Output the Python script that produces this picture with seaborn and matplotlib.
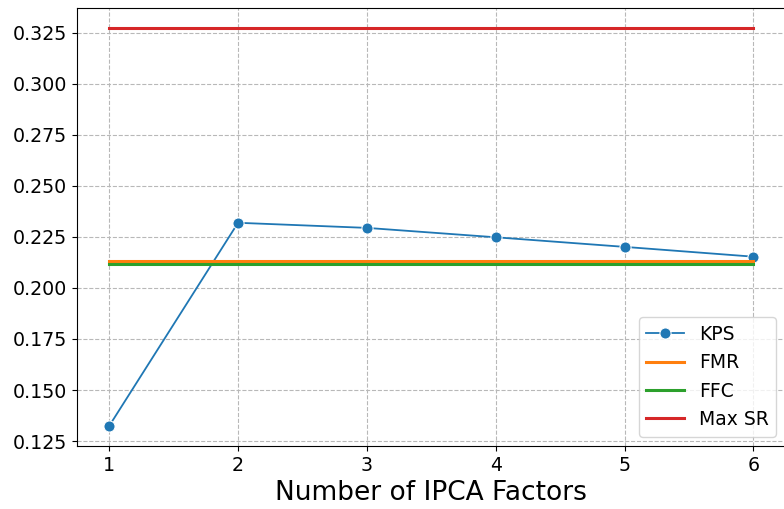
import numpy as np
import pandas as pd
import matplotlib
matplotlib.use('Agg')
import matplotlib.pyplot as plt
import seaborn as sns

n_factors = [1, 2, 3, 4, 5, 6]
kps = [0.1324, 0.2319, 0.2294, 0.2248, 0.2201, 0.2153]
fmr = [0.2131] * 6
ffc = [0.2118] * 6
max_sr = [0.3275] * 6

df = pd.DataFrame({'factors': n_factors, 'KPS': kps, 'FMR': fmr,
                   'FFC': ffc, 'Max SR': max_sr})

fig, ax = plt.subplots(figsize=(7.84, 5.09), dpi=100)
# the original figure is cut off on the right, so the axes run past the edge
fig.subplots_adjust(left=0.0982, right=1.002, top=0.985, bottom=0.124)

sns.lineplot(data=df, x='factors', y='KPS', marker='o', markersize=8,
             linewidth=1.3, color='tab:blue', label='KPS', ax=ax)
sns.lineplot(data=df, x='factors', y='FMR', linewidth=2.2,
             color='tab:orange', label='FMR', ax=ax)
sns.lineplot(data=df, x='factors', y='FFC', linewidth=2.2,
             color='tab:green', label='FFC', ax=ax)
sns.lineplot(data=df, x='factors', y='Max SR', linewidth=2.2,
             color='tab:red', label='Max SR', ax=ax)

ax.grid(True, linestyle='--', color='#b8b8b8', linewidth=0.8)
ax.set_axisbelow(True)
ax.set_xlabel('Number of IPCA Factors', fontsize=19)
ax.set_ylabel('')
ax.set_xticks(n_factors)
ax.set_yticks(np.arange(0.125, 0.3251, 0.025))
ax.tick_params(labelsize=13.7)
ax.legend(loc='lower right', fontsize=13.5)

plt.savefig('out.png', dpi=100)
